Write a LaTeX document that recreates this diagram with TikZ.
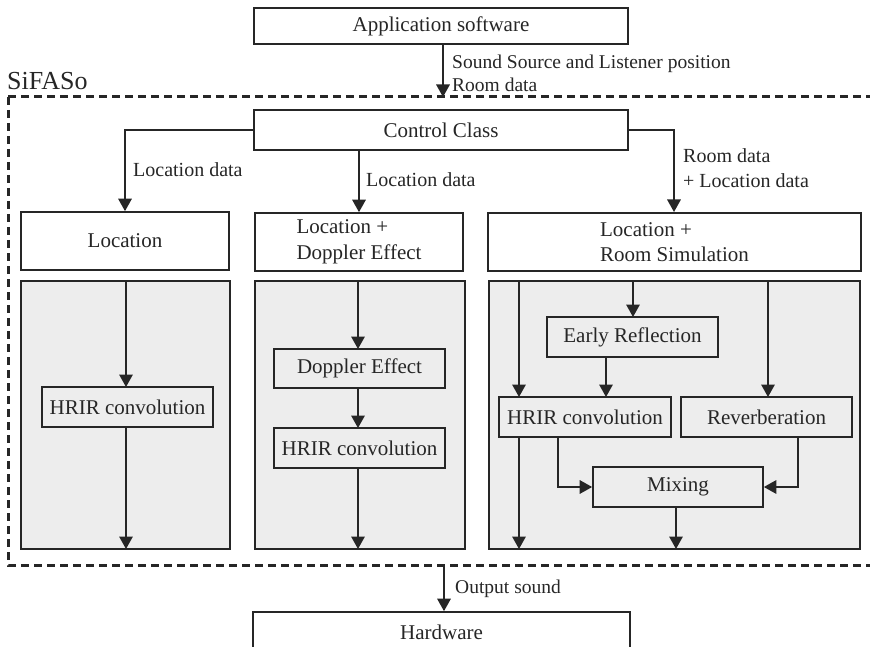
\documentclass[tikz,border=0pt]{standalone}
\usepackage{fontspec}
\setmainfont{Liberation Serif}
\usetikzlibrary{arrows.meta}
\definecolor{ink}{HTML}{262626}
\definecolor{panel}{HTML}{EDEDED}
\tikzset{
  box/.style={draw=ink, line width=1.7pt, fill=white, inner sep=0pt,
    font=\fontsize{21}{25.5}\selectfont, text=ink},
  sub/.style={box, fill=panel},
  panelbox/.style={draw=ink, line width=1.7pt, fill=panel},
  arr/.style={draw=ink, line width=1.7pt, -{Triangle[width=13.5pt,length=12.5pt]}},
  lab/.style={anchor=west, inner sep=0pt, text=ink, font=\fontsize{20}{24}\selectfont},
  smalllab/.style={anchor=west, inner sep=0pt, text=ink, font=\fontsize{19.5}{23}\selectfont},
}
\begin{document}
\begin{tikzpicture}[x=1pt,y=-1pt]
\useasboundingbox (0,0) rectangle (870,647);
\clip (0,0) rectangle (870,647);

% top application box
\node[box, minimum width=374pt, minimum height=36pt] (app) at (441,26) {Application software};

% SiFASo frame
\draw[ink, line width=3pt, dash pattern=on 8pt off 5pt] (8,97) -- (885,97);
\draw[ink, line width=3pt, dash pattern=on 8pt off 5pt] (8,97) -- (8,565) -- (885,565);
\node[anchor=base west, inner sep=0pt, text=ink, font=\fontsize{26}{30}\selectfont] (sifaso) at (7,90) {SiFASo};

\coordinate (ctrlin) at (443,97);
\draw[arr] (app.south -| ctrlin) -- (ctrlin);
\node[smalllab] (l1) at (452,64) {Sound Source and Listener position};
\node[smalllab] (l2) at (452,85) {Room data};

% control class
\node[box, minimum width=374pt, minimum height=40pt] (ctrl) at (441,130) {Control Class};

% three renderers
\node[box, minimum width=208pt, minimum height=58pt] (loc) at (125,241) {Location};
\node[box, minimum width=208pt, minimum height=58pt, align=left] (dop) at (359,242) {Location +\\Doppler Effect};
\node[box, minimum width=373pt, minimum height=58pt, align=left] (room) at (674.5,242) {Location +\\Room Simulation};

\draw[arr] (ctrl.west) -| (loc.north);
\draw[arr] (ctrl.south -| dop.north) -- (dop.north);
\draw[arr] (ctrl.east) -| (674,212);
\node[lab] (ld1) at (133,170) {Location data};
\node[lab] (ld2) at (366,180) {Location data};
\node[lab] (rd) at (683,156) {Room data};
\node[lab] (rl) at (683,181) {+ Location data};

% processing panels
\node[panelbox, minimum width=209pt, minimum height=268pt] (p1) at (125.5,415) {};
\node[panelbox, minimum width=210pt, minimum height=268pt] (p2) at (360,415) {};
\node[panelbox, minimum width=371pt, minimum height=268pt] (p3) at (674.5,415) {};

% panel 1
\node[sub, minimum width=171pt, minimum height=40pt] (h1) at (127.5,407) {HRIR convolution};
\draw[arr] (126,281) -- (126,387);
\draw[arr] (126,427) -- (126,549);

% panel 2
\node[sub, minimum width=171pt, minimum height=39pt] (de) at (359.5,368.5) {Doppler Effect};
\node[sub, minimum width=171pt, minimum height=40pt] (h2) at (359.5,448) {HRIR convolution};
\draw[arr] (358,281) -- (358,349);
\draw[arr] (358,388) -- (358,428);
\draw[arr] (358,468) -- (358,549);

% panel 3
\node[sub, minimum width=171pt, minimum height=40pt] (er) at (632.5,337) {Early Reflection};
\node[sub, minimum width=172pt, minimum height=40pt] (h3) at (585,417) {HRIR convolution};
\node[sub, minimum width=171pt, minimum height=40pt] (rv) at (766.5,417) {Reverberation};
\node[sub, minimum width=170pt, minimum height=40pt] (mx) at (678,487) {Mixing};
\draw[arr] (519,281) -- (519,397);
\draw[arr] (519,437) -- (519,549);
\draw[arr] (633,281) -- (633,317);
\draw[arr] (606,357) -- (606,397);
\draw[arr] (768,281) -- (768,397);
\draw[arr] (558,437) |- (mx.west);
\draw[arr] (798,437) |- (mx.east);
\draw[arr] (676,507) -- (676,549);

% output
\node[box, minimum width=377pt, minimum height=68pt, text depth=0pt] (hw) at (441.5,646) {};
\node[inner sep=0pt, text=ink, font=\fontsize{21}{25}\selectfont] (hwt) at (441.5,632) {Hardware};
\coordinate (outsrc) at (444,565);
\draw[arr] (outsrc) -- (outsrc |- hw.north);
\node[smalllab] (os) at (455,589) {Output sound};
\end{tikzpicture}
\end{document}
